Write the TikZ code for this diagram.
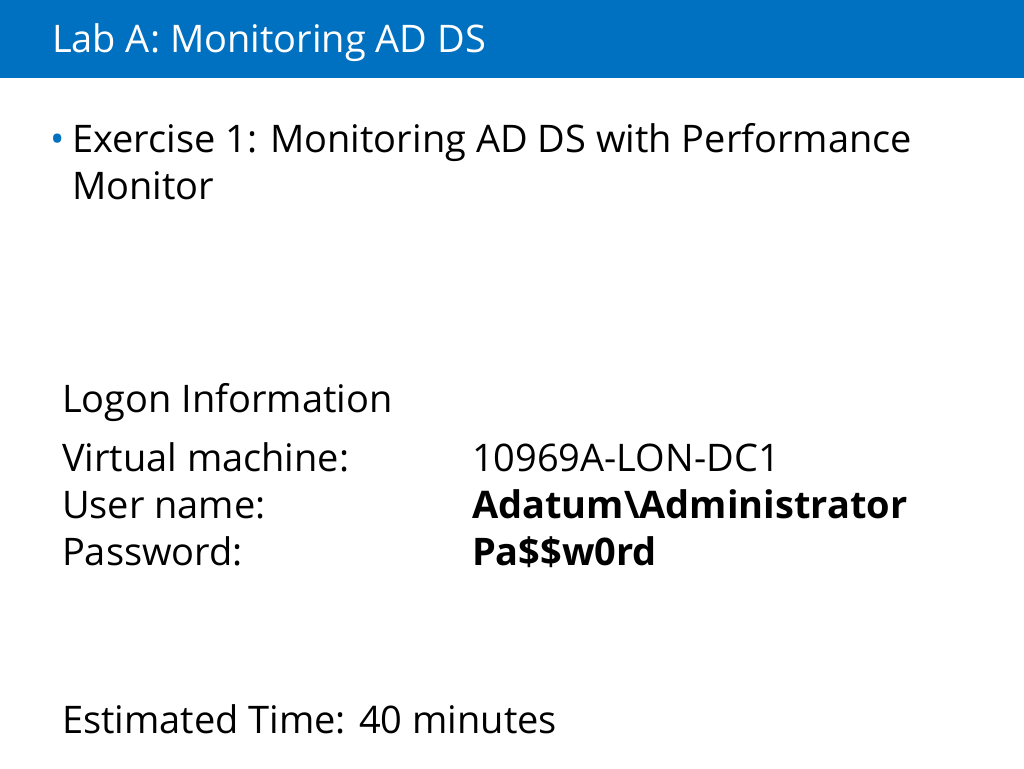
\documentclass[tikz,border=0pt]{standalone}
\usepackage{fontspec}
\setmainfont{Open Sans}
\definecolor{hdrblue}{HTML}{0070C0}
\begin{document}
\begin{tikzpicture}[x=0.75pt,y=-0.75pt,
  txt/.style={anchor=base west,inner sep=0pt,outer sep=0pt,font=\fontsize{28.5}{34}\selectfont},
  ttl/.style={txt,text=white},
  bul/.style={anchor=base west,inner sep=0pt,text=hdrblue,font=\fontsize{28.5}{34}\selectfont}]
\useasboundingbox (0,0) rectangle (1024,768);
\fill[white] (0,0) rectangle (1024,768);
\fill[hdrblue] (0,0) rectangle (1024,78);
\node[ttl] (title) at (52,52) {Lab A: Monitoring AD DS};
\node[bul] (bullet) at (50,152) {•};
\node[txt] (ex1) at (72,152) {Exercise 1: Monitoring AD DS with Performance};
\node[txt] (ex2) at (72,199) {Monitor};
\node[txt] (logon) at (62,412) {Logon Information};
\node[txt] (vm) at (62,471) {Virtual machine:};
\node[txt] (un) at (62,518) {User name:};
\node[txt] (pw) at (62,565) {Password:};
\node[txt] (vmv) at (472,471) {10969A-LON-DC1};
\node[txt,font=\fontsize{28.5}{34}\selectfont\bfseries] (unv) at (472,518) {Adatum\textbackslash Administrator};
\node[txt,font=\fontsize{28.5}{34}\selectfont\bfseries] (pwv) at (472,565) {Pa\$\$w0rd};
\node[txt] (est) at (62,733) {Estimated Time: 40 minutes};
\end{tikzpicture}
\end{document}
